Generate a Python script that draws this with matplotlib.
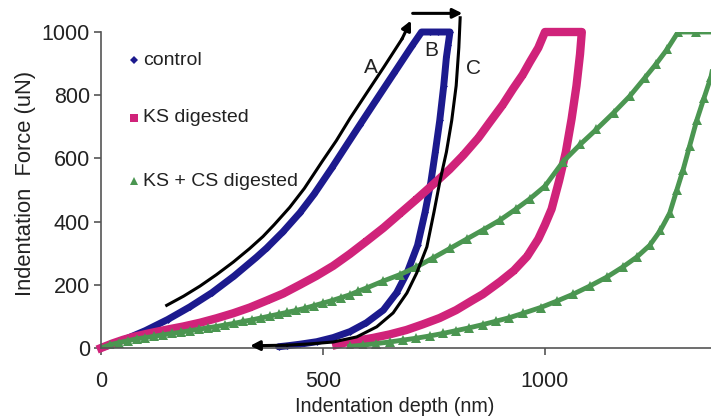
import matplotlib
matplotlib.use("Agg")
import matplotlib.pyplot as plt

plt.rcParams['font.family'] = ['Liberation Sans', 'DejaVu Sans']

# ---- data (depth nm, force uN) ----
ctrl_x = [0, 25, 50, 75, 100, 150, 200, 250, 300, 350, 373, 410, 448, 480, 520, 550, 583, 620,
          660, 700, 722,
          740, 760, 786,
          782, 778, 772, 763, 753, 743, 730, 713, 690, 666, 636, 598, 561, 523, 486, 448, 420, 400]
ctrl_y = [0, 12, 25, 40, 55, 90, 130, 175, 228, 287, 316, 368, 428, 487, 570, 635, 706, 785,
          870, 955, 1000,
          1000, 1000, 1000,
          960, 920, 830, 720, 620, 525, 430, 325, 240, 175, 120, 80, 52, 33, 20, 12, 7, 4]

ks_x = [0, 25, 50, 75, 110, 148, 185, 223, 260, 298, 335, 373, 410, 448, 485, 523, 560, 598,
        636, 673, 710, 750, 785, 816, 850, 876, 905, 928, 950, 966, 985, 1000,
        1030, 1060, 1083,
        1079, 1071, 1060, 1047, 1032, 1015, 1000, 985, 960, 930, 899, 860, 838, 800, 763, 725,
        688, 650, 613, 580, 550, 530]
ks_y = [0, 14, 26, 36, 47, 58, 68, 80, 94, 110, 128, 150, 172, 200, 228, 260, 297, 338,
        380, 425, 470, 520, 565, 610, 665, 715, 770, 820, 865, 905, 950, 1000,
        1000, 1000, 1000,
        930, 830, 725, 620, 530, 440, 390, 345, 290, 245, 210, 170, 152, 120, 95, 75,
        57, 43, 32, 24, 17, 10]

kscs_x = [0, 20, 40, 60, 80, 100, 120, 140, 160, 180, 200, 220, 240, 260, 280, 300, 320, 340,
          360, 380, 400, 420, 440, 460, 480, 500, 520, 540, 560, 580, 600, 636, 673, 710, 748,
          786, 824, 862, 899, 935, 966, 1000, 1041, 1080, 1116, 1155, 1191, 1225, 1251, 1275,
          1300, 1340, 1390,
          1385, 1374, 1358, 1342, 1326, 1311, 1297, 1281, 1260, 1236, 1207, 1176, 1140, 1101,
          1063, 1026, 990, 951, 920, 890, 860, 830, 800, 770, 740, 710, 680, 650, 620, 590, 560]
kscs_y = [0, 10, 17, 23, 29, 33, 37, 42, 46, 50, 55, 59, 64, 68, 73, 78, 84, 89,
          95, 101, 107, 113, 119, 126, 134, 142, 150, 159, 168, 180, 191, 212, 232, 256, 285,
          315, 345, 375, 405, 440, 472, 512, 590, 645, 692, 745, 797, 855, 900, 945,
          1000, 1000, 1000,
          935, 858, 790, 721, 640, 563, 500, 427, 372, 325, 288, 257, 225, 196,
          170, 148, 128, 110, 96, 85, 74, 64, 55, 46, 38, 31, 25, 19, 14, 9, 5]

# guide arrows (A: loading, B: hold, C: unloading)
a_x = [148, 186, 223, 260, 298, 335, 365, 390, 425, 458, 498, 530, 561, 598, 638, 678]
a_y = [135, 164, 196, 232, 272, 315, 353, 390, 445, 505, 590, 656, 727, 806, 891, 978]
a_tip = (698, 1036)
b_start, b_end = (702, 1059), (814, 1059)
c_x = [809, 806, 800, 790, 778, 763, 750, 734, 711, 689, 658, 621, 576, 523, 471, 420]
c_y = [1045, 950, 830, 720, 620, 525, 430, 320, 237, 174, 111, 67, 35, 19, 13, 9]
c_tip = (336, 7)

labels = ["control", "KS digested", "KS + CS digested"]
colors = ["#1c1a8e", "#d0237a", "#4b9651"]
txt = '#222222'

fig = plt.figure(figsize=(7.11, 4.20), dpi=100)
ax = fig.add_axes([101/711, 72/420, 610/711, 316/420])

ax.plot(ctrl_x, ctrl_y, color=colors[0], lw=5, marker='D', ms=3.5, mew=0, clip_on=False,
        solid_joinstyle='round', solid_capstyle='round')
ax.plot(ks_x, ks_y, color=colors[1], lw=6, marker='s', ms=5, mew=0, clip_on=False,
        solid_joinstyle='round')
ax.plot(kscs_x, kscs_y, color=colors[2], lw=3.5, marker='^', ms=6.5, mew=0, clip_on=True,
        solid_joinstyle='round')

# black guide arrows
aprops = dict(arrowstyle='-|>', color='black', lw=2.2, mutation_scale=14, shrinkA=0, shrinkB=0)
ax.plot(a_x, a_y, color='black', lw=2.2, clip_on=False, solid_joinstyle='round')
ax.annotate('', xy=a_tip, xytext=(a_x[-1], a_y[-1]), arrowprops=aprops, annotation_clip=False)
ax.annotate('', xy=b_end, xytext=b_start, arrowprops=aprops, annotation_clip=False)
ax.plot(c_x, c_y, color='black', lw=2.2, clip_on=False, solid_joinstyle='round')
ax.annotate('', xy=c_tip, xytext=(c_x[-1], c_y[-1]), arrowprops=aprops, annotation_clip=False)

ax.text(608, 889, 'A', fontsize=15, ha='center', va='center', color=txt)
ax.text(745, 943, 'B', fontsize=15, ha='center', va='center', color=txt)
ax.text(838, 886, 'C', fontsize=15, ha='center', va='center', color=txt)

# in-plot legend
leg_y = [911, 728, 528]
leg_m = ['D', 's', '^']
leg_ms = [4.5, 5.5, 6]
for lab, c, yy, m, s in zip(labels, colors, leg_y, leg_m, leg_ms):
    ax.plot([74], [yy], marker=m, color=c, ms=s, ls='none', mew=0, clip_on=False)
    ax.text(95, yy, lab, fontsize=14, ha='left', va='center', color=txt)

ax.set_xlim(0, 1374)
ax.set_ylim(0, 1000)
ax.set_xticks([0, 500, 1000])
ax.set_yticks([0, 200, 400, 600, 800, 1000])
for s in ['top', 'right']:
    ax.spines[s].set_visible(False)
for s in ['left', 'bottom']:
    ax.spines[s].set_color('#555555')
    ax.spines[s].set_linewidth(1.2)
ax.tick_params(axis='both', direction='out', length=5, width=1.2, color='#555555',
               labelsize=15.5, labelcolor=txt)
ax.tick_params(axis='y', pad=3)
ax.tick_params(axis='x', pad=11.5)

ax.set_xlabel('Indentation depth (nm)', fontsize=14.2, color=txt)
ax.set_ylabel('Indentation  Force (uN)', fontsize=15.8, color=txt)
ax.xaxis.set_label_coords(0.482, -0.155)
ax.yaxis.set_label_coords(-0.106, 0.522)

fig.savefig('out.png', dpi=100)
